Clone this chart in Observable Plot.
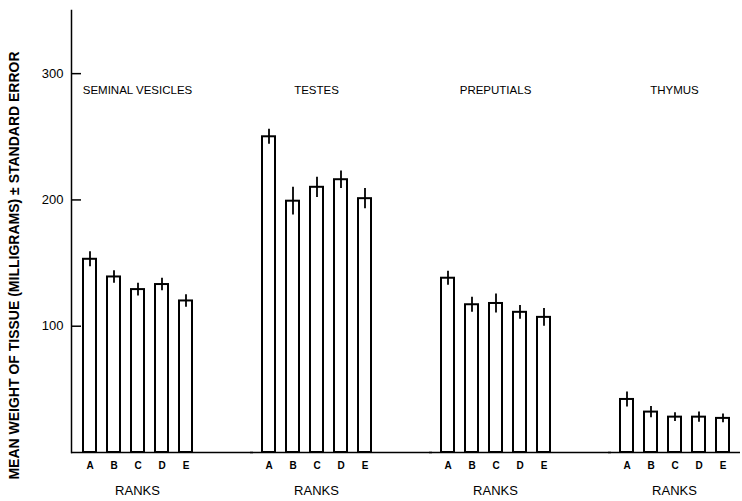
<!DOCTYPE html>
<html><head><meta charset="utf-8">
<script src="https://cdn.jsdelivr.net/npm/d3@7"></script>
<script src="https://cdn.jsdelivr.net/npm/@observablehq/plot@0.6"></script>
<style>html,body{margin:0;padding:0;background:#fff;overflow:hidden}</style>
</head><body><div id="chart"></div>
<script>
const tissues = ["SEMINAL VESICLES", "TESTES", "PREPUTIALS", "THYMUS"];
const ranks = ["A", "B", "C", "D", "E"];
const yTicks = [100, 200, 300];
const yLabel = "MEAN WEIGHT OF TISSUE (MILLIGRAMS) \u00B1 STANDARD ERROR";
const xLabel = "RANKS";

// mean weights (mg) per rank A–E
const seminalVesicles = [153, 139, 129, 133, 120];
const testes = [250, 199, 210, 216, 201];
const preputials = [138, 117, 118, 111, 107];
const thymus = [42, 32, 28, 28, 27];

// standard errors
const seminalVesiclesSE = [6, 5, 5, 5, 5];
const testesSE = [6, 11, 8, 7, 8];
const preputialsSE = [5.5, 6, 7.5, 5.5, 7];
const thymusSE = [6, 4.5, 3.5, 4, 3.5];

const means = [seminalVesicles, testes, preputials, thymus];
const ses = [seminalVesiclesSE, testesSE, preputialsSE, thymusSE];

const data = tissues.flatMap((t, i) => ranks.map((r, j) => ({
  tissue: t, rank: r, mean: means[i][j], se: ses[i][j]
})));

const font = "'Liberation Sans', Arial, sans-serif";

const chart = Plot.plot({
  width: 742,
  height: 501,
  marginLeft: 70,
  marginRight: 0,
  marginTop: 10,
  marginBottom: 49,
  style: {fontFamily: font, background: "white", color: "black", overflow: "hidden"},
  fx: {domain: tissues, paddingInner: 0.26, paddingOuter: 0, axis: null, label: null},
  x: {domain: ranks, padding: 0.47, label: null},
  y: {domain: [0, 350], label: null},
  marks: [
    Plot.ruleY(tissues.slice(0, 3), {fx: d => d, y: () => 0, insetRight: -50, strokeWidth: 1.5}),
    Plot.ruleY(tissues.slice(3), {fx: d => d, y: () => 0, strokeWidth: 1.5}),
    Plot.frame({anchor: "left", facetAnchor: "left", strokeWidth: 1.5}),
    Plot.axisY({ticks: yTicks, tickSize: -10, tickPadding: 18, label: null, fontSize: 13, strokeWidth: 1.5}),
    Plot.axisX({tickSize: 0, tickPadding: 9, label: null, fontSize: 10, fontWeight: "bold"}),
    Plot.barY(data, {fx: "tissue", x: "rank", y: "mean", fill: "white", stroke: "black", strokeWidth: 2}),
    Plot.ruleX(data, {fx: "tissue", x: "rank", y1: d => d.mean - d.se, y2: d => d.mean + d.se, strokeWidth: 1.8}),
    Plot.text(tissues, {fx: d => d, text: d => d, y: () => 287, fontSize: 11.5, letterSpacing: 1.3}),
    Plot.text(tissues, {fx: d => d, text: () => xLabel, frameAnchor: "bottom", dy: 42, fontSize: 13, letterSpacing: 1}),
    Plot.text([yLabel], {fx: () => tissues[0], text: d => d, frameAnchor: "left", textAnchor: "middle", rotate: -90, dx: -57, dy: 34, fontSize: 14, fontWeight: "bold", letterSpacing: 1.4})
  ]
});
document.getElementById("chart").appendChild(chart);
</script>
</body></html>
